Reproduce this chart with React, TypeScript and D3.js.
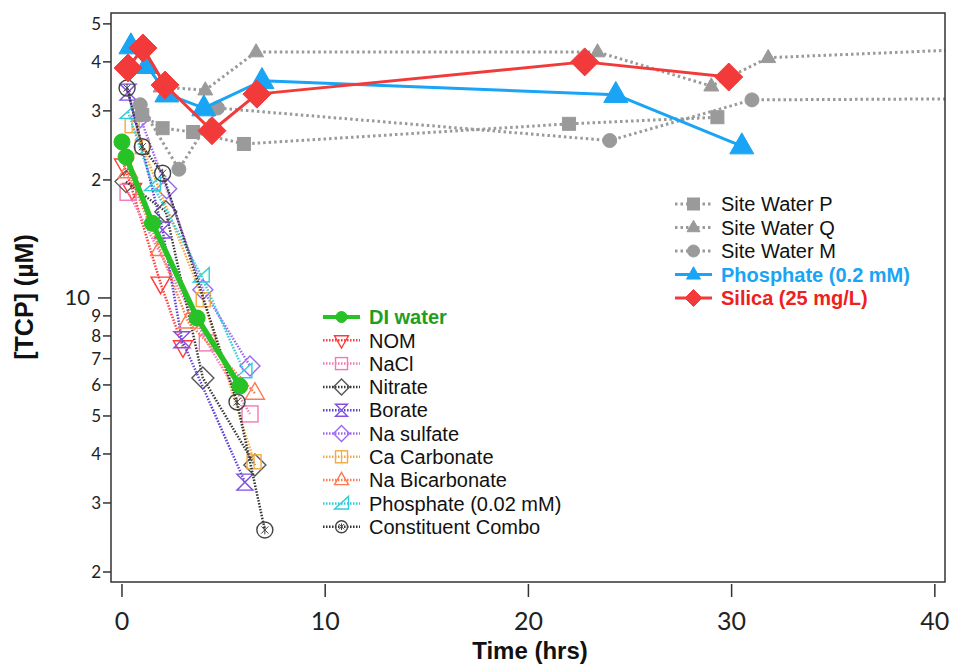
import React from "react";
import * as d3 from "d3";

// ---------- data (time in hrs, [TCP] in µM) ----------
const siteP_t = [1.0, 2.0, 3.5, 6.0, 22.0, 29.3];
const siteP_v = [29.3, 27.1, 26.5, 24.7, 27.8, 28.9];
const siteQ_t = [1.9, 4.1, 6.6, 23.4, 29.0, 31.8, 41.5];
const siteQ_v = [34.5, 33.9, 42.4, 42.4, 34.7, 41.0, 43.0];
const siteM_t = [0.9, 2.8, 4.7, 24.0, 31.0, 41.5];
const siteM_v = [31.1, 21.3, 30.5, 25.2, 32.0, 32.2];
const phos02_t = [0.44, 1.23, 2.21, 4.03, 6.89, 24.3, 30.5];
const phos02_v = [43.9, 39.1, 33.1, 30.5, 35.8, 33.0, 24.4];
const silica_t = [0.3, 1.03, 2.12, 4.43, 6.64, 22.77, 29.86];
const silica_v = [38.6, 43.4, 34.9, 26.7, 33.1, 40.0, 36.6];

const di_t = [0, 0.2, 1.5, 3.7, 5.8];
const di_v = [25.0, 22.9, 15.5, 8.89, 5.96];
const nom_t = [0.1, 0.5, 1.9, 3.0];
const nom_v = [21.8, 18.9, 10.9, 7.5];
const nacl_t = [0.3, 4.2, 6.3];
const nacl_v = [18.6, 7.68, 5.06];
const nitrate_t = [0.2, 2.16, 3.98, 6.54];
const nitrate_v = [19.8, 16.6, 6.25, 3.75];
const borate_t = [0.3, 2.0, 2.95, 6.05];
const borate_v = [33.5, 14.9, 7.82, 3.39];
const nasulf_t = [0.9, 2.2, 3.98, 6.3];
const nasulf_v = [28.8, 19.0, 10.5, 6.71];
const cacarb_t = [0.5, 1.0, 4.0, 6.5];
const cacarb_v = [27.5, 24.3, 9.9, 3.82];
const nabicarb_t = [0.3, 1.87, 3.25, 6.54];
const nabicarb_v = [21.0, 13.3, 8.69, 5.72];
const phos002_t = [0.3, 1.5, 3.9, 6.0];
const phos002_v = [29.8, 19.5, 11.4, 6.5];
const combo_t = [0.25, 1.0, 2.0, 5.66, 7.03];
const combo_v = [34.3, 24.3, 20.8, 5.43, 2.56];

const xTicks = [0, 10, 20, 30, 40];
const yTicks = [2, 3, 4, 5, 6, 7, 8, 9, 10, 20, 30, 40, 50];
const yTickLabels = ["2", "3", "4", "5", "6", "7", "8", "9", "10", "2", "3", "4", "5"];

const leftLegendNames = ["DI water", "NOM", "NaCl", "Nitrate", "Borate", "Na sulfate", "Ca Carbonate", "Na Bicarbonate", "Phosphate (0.02 mM)", "Constituent Combo"];
const rightLegendNames = ["Site Water P", "Site Water Q", "Site Water M", "Phosphate (0.2 mM)", "Silica (25 mg/L)"];

// ---------- styles ----------
type Style = {
  color: string; mcolor?: string; shape: string; size: number; lsize: number; width: number;
  dash?: string; filled: boolean; textColor?: string; bold?: boolean;
};

const zip = (t: number[], v: number[]) => t.map((d, i) => [d, v[i]] as [number, number]);

const decay = [
  { name: leftLegendNames[1], pts: zip(nom_t, nom_v), st: { color: "#ff3b3b", shape: "tridown", size: 9.5, lsize: 7, width: 2.5, dash: "1.5,1.5", filled: false } },
  { name: leftLegendNames[2], pts: zip(nacl_t, nacl_v), st: { color: "#f07ab4", shape: "square", size: 8, lsize: 6, width: 2.5, dash: "1.5,1.5", filled: false } },
  { name: leftLegendNames[3], pts: zip(nitrate_t, nitrate_v), st: { color: "#3a3a3a", mcolor: "#555", shape: "diamond", size: 11, lsize: 8, width: 2.5, dash: "1.5,1.5", filled: false } },
  { name: leftLegendNames[4], pts: zip(borate_t, borate_v), st: { color: "#5a3fd0", mcolor: "#8050e0", shape: "hourglass", size: 8, lsize: 6, width: 2.5, dash: "1.5,1.5", filled: false } },
  { name: leftLegendNames[5], pts: zip(nasulf_t, nasulf_v), st: { color: "#9a68ee", shape: "diamond", size: 10, lsize: 8, width: 2.5, dash: "1.5,1.5", filled: false } },
  { name: leftLegendNames[6], pts: zip(cacarb_t, cacarb_v), st: { color: "#f5a840", shape: "sqcross", size: 7, lsize: 6, width: 2.5, dash: "1.5,1.5", filled: false } },
  { name: leftLegendNames[7], pts: zip(nabicarb_t, nabicarb_v), st: { color: "#ff7a50", shape: "tri", size: 9.5, lsize: 7, width: 2.5, dash: "1.5,1.5", filled: false } },
  { name: leftLegendNames[8], pts: zip(phos002_t, phos002_v), st: { color: "#30cdd8", shape: "rtri", size: 8, lsize: 7, width: 2.5, dash: "1.5,1.5", filled: false } },
  { name: leftLegendNames[9], pts: zip(combo_t, combo_v), st: { color: "#333", mcolor: "#444", shape: "circstar", size: 8, lsize: 6, width: 2.5, dash: "1.5,1.5", filled: false } },
];
const diSeries = { name: leftLegendNames[0], pts: zip(di_t, di_v), st: { color: "#26c226", shape: "circle", size: 8, lsize: 5.5, width: 5.5, filled: true, textColor: "#1f9e1f", bold: true } };

const right = [
  { name: rightLegendNames[0], pts: zip(siteP_t, siteP_v), st: { color: "#9a9a9a", shape: "square", size: 6.5, lsize: 6, width: 3, dash: "2.5,3", filled: true } },
  { name: rightLegendNames[1], pts: zip(siteQ_t, siteQ_v), st: { color: "#9a9a9a", shape: "tri", size: 7.5, lsize: 6.5, width: 3, dash: "2.5,3", filled: true } },
  { name: rightLegendNames[2], pts: zip(siteM_t, siteM_v), st: { color: "#9a9a9a", shape: "circle", size: 7, lsize: 6, width: 3, dash: "2.5,3", filled: true } },
  { name: rightLegendNames[3], pts: zip(phos02_t, phos02_v), st: { color: "#19a4f5", shape: "tri", size: 12, lsize: 7, width: 3, filled: true, textColor: "#19a4f5", bold: true } },
  { name: rightLegendNames[4], pts: zip(silica_t, silica_v), st: { color: "#f23a3a", shape: "diamond", size: 14, lsize: 8.5, width: 3, filled: true, textColor: "#ee2020", bold: true } },
];

function Marker({ shape, cx, cy, s, color, filled }: { shape: string; cx: number; cy: number; s: number; color: string; filled: boolean }) {
  const fill = filled ? color : "none";
  const common = { fill, stroke: color, strokeWidth: filled ? 1 : 1.4 } as any;
  switch (shape) {
    case "circle":
      return <circle cx={cx} cy={cy} r={s} {...common} />;
    case "square":
      return <rect x={cx - s} y={cy - s} width={2 * s} height={2 * s} {...common} />;
    case "sqcross":
      return (
        <g>
          <rect x={cx - s} y={cy - s} width={2 * s} height={2 * s} {...common} />
          <line x1={cx} x2={cx} y1={cy - s} y2={cy + s} stroke={color} strokeWidth={1.2} />
        </g>
      );
    case "diamond":
      return <path d={`M${cx},${cy - s}L${cx + s},${cy}L${cx},${cy + s}L${cx - s},${cy}Z`} {...common} />;
    case "tri":
      return <path d={`M${cx},${cy - s * 1.1}L${cx + s},${cy + s * 0.65}L${cx - s},${cy + s * 0.65}Z`} {...common} />;
    case "tridown":
      return <path d={`M${cx},${cy + s * 1.1}L${cx + s},${cy - s * 0.65}L${cx - s},${cy - s * 0.65}Z`} {...common} />;
    case "hourglass":
      return <path d={`M${cx - s},${cy - s}L${cx + s},${cy - s}L${cx - s},${cy + s}L${cx + s},${cy + s}Z`} {...common} />;
    case "rtri":
      return <path d={`M${cx - s},${cy + s * 0.8}L${cx + s},${cy + s * 0.8}L${cx + s},${cy - s}Z`} {...common} />;
    case "circstar":
      return (
        <g>
          <circle cx={cx} cy={cy} r={s} {...common} />
          <path d={`M${cx - s * 0.45},${cy - s * 0.45}L${cx + s * 0.45},${cy + s * 0.45}M${cx + s * 0.45},${cy - s * 0.45}L${cx - s * 0.45},${cy + s * 0.45}M${cx},${cy - s * 0.55}L${cx},${cy + s * 0.55}`} stroke={color} strokeWidth={1} />
        </g>
      );
    default:
      return null;
  }
}

export default function App() {
  const L = 111, T = 13, R = 945, B = 582;
  const x = d3.scaleLinear().domain([-0.54, 40.5]).range([L, R]);
  const y = d3.scaleLog().domain([1.886, 53.3]).range([B, T]);
  const line = d3.line<[number, number]>().x((d) => x(d[0])).y((d) => y(d[1]));

  const drawSeries = (s: any, key: string) => {
    const st: Style = s.st;
    return (
      <g key={key}>
        <path d={line(s.pts) || ""} fill="none" stroke={st.color} strokeWidth={st.width} strokeDasharray={st.dash} strokeLinejoin="round" />
        {s.pts.map((p: [number, number], i: number) => (
          <Marker key={i} shape={st.shape} cx={x(p[0])} cy={y(p[1])} s={st.size} color={st.mcolor || st.color} filled={st.filled} />
        ))}
      </g>
    );
  };

  const legendRow = (s: any, lx: number, ly: number, key: string) => {
    const st: Style = s.st;
    return (
      <g key={key}>
        <line x1={lx} x2={lx + 37} y1={ly} y2={ly} stroke={st.color} strokeWidth={st.width > 3.5 ? 4 : st.width} strokeDasharray={st.dash} />
        <Marker shape={st.shape} cx={lx + 18.5} cy={ly} s={st.lsize} color={st.mcolor || st.color} filled={st.filled} />
        <text x={lx + 46} y={ly} dy="0.36em" fontSize={20} fontFamily="'Liberation Sans', Arial, sans-serif" fontWeight={st.bold ? "bold" : "normal"} fill={st.textColor || "#111"}>
          {s.name}
        </text>
      </g>
    );
  };

  const leftSeries = [diSeries, ...decay];

  return (
    <div style={{ position: "fixed", left: 0, top: 0 }}>
      <svg width={956} height={666} style={{ display: "block", background: "#fff" }}>
        <defs>
          <clipPath id="plot">
            <rect x={L} y={T} width={R - L} height={B - T} />
          </clipPath>
        </defs>
        <rect x={0} y={0} width={956} height={666} fill="#fff" />
        <g clipPath="url(#plot)">
          {decay.map((s, i) => drawSeries(s, "d" + i))}
          {drawSeries(diSeries, "di")}
          {right.map((s, i) => drawSeries(s, "r" + i))}
        </g>
        <rect x={L} y={T} width={R - L} height={B - T} fill="none" stroke="#333" strokeWidth={1.5} />
        {/* y axis */}
        {yTicks.map((v, i) => {
          const big = v === 10;
          const len = big ? 13 : 8;
          return (
            <g key={"yt" + i}>
              <line x1={L - len} x2={L} y1={y(v)} y2={y(v)} stroke="#333" strokeWidth={1.5} />
              <text x={big ? 90 : L - len - 2} y={y(v)} dy={big ? "0.3em" : "0.36em"} textAnchor="end" fontSize={big ? 22 : 17} fontFamily="Lato, 'Open Sans', sans-serif" fill="#222">
                {yTickLabels[i]}
              </text>
            </g>
          );
        })}
        {/* x axis */}
        {xTicks.map((v) => (
          <g key={"xt" + v}>
            <line x1={x(v)} x2={x(v)} y1={B + 2} y2={B + 15} stroke="#333" strokeWidth={1.5} />
            <text x={x(v)} y={B + 48} textAnchor="middle" fontSize={25} fontFamily="Lato, 'Open Sans', sans-serif" fill="#222">
              {v}
            </text>
          </g>
        ))}
        <text x={530} y={659} textAnchor="middle" fontSize={24} fontWeight="bold" fontFamily="'Liberation Sans', Arial, sans-serif" fill="#111">
          Time (hrs)
        </text>
        <text transform="translate(33,297) rotate(-90)" textAnchor="middle" fontSize={25} fontWeight="bold" fontFamily="'Liberation Sans', Arial, sans-serif" fill="#111">
          [TCP] (µM)
        </text>
        {/* legends */}
        {leftSeries.map((s, i) => legendRow(s, 323, 317 + i * 23.3, "ll" + i))}
        {right.map((s, i) => legendRow(s, 675, 204 + i * 23.5, "rl" + i))}
      </svg>
    </div>
  );
}
